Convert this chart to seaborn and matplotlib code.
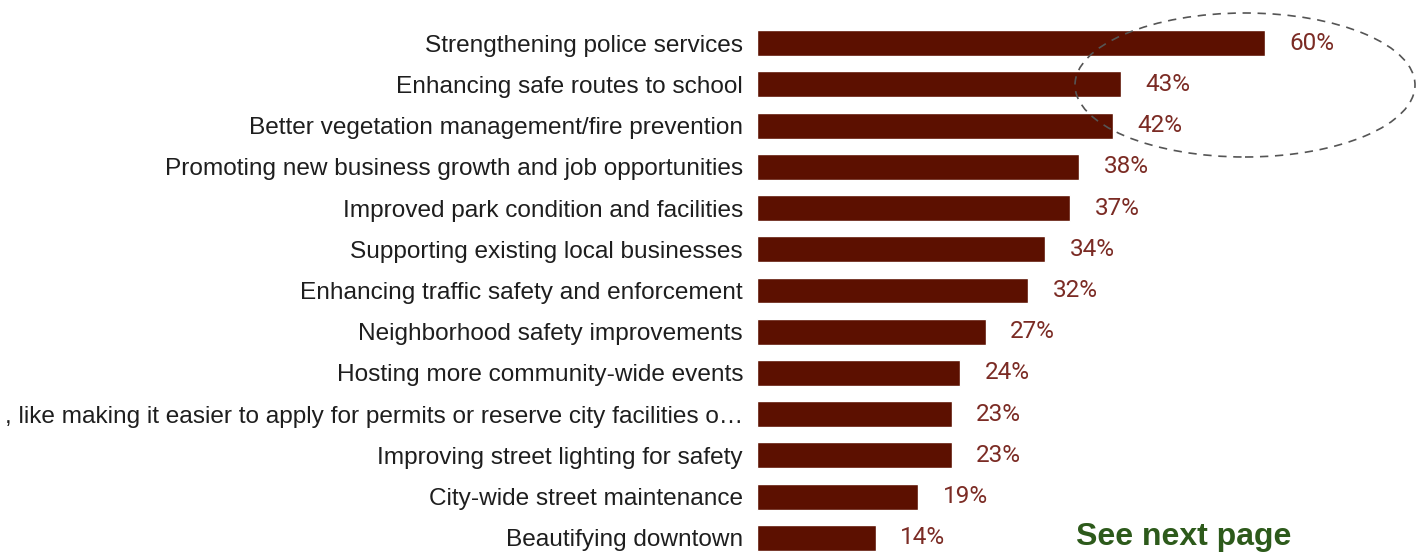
import pandas as pd
import matplotlib.pyplot as plt
import seaborn as sns
from matplotlib.patches import Ellipse

# Datos
categorias = [
    "Strengthening police services",
    "Enhancing safe routes to school",
    "Better vegetation management/fire prevention",
    "Promoting new business growth and job opportunities",
    "Improved park condition and facilities",
    "Supporting existing local businesses",
    "Enhancing traffic safety and enforcement",
    "Neighborhood safety improvements",
    "Hosting more community-wide events",
    ", like making it easier to apply for permits or reserve city facilities o\u2026",
    "Improving street lighting for safety",
    "City-wide street maintenance",
    "Beautifying downtown",
]
porcentajes = [60, 43, 42, 38, 37, 34, 32, 27, 24, 23, 23, 19, 14]

df = pd.DataFrame({"categoria": categorias, "pct": porcentajes})

sns.set_style("white")
plt.rcParams['font.family'] = ['Liberation Sans', 'DejaVu Sans']

fig = plt.figure(figsize=(14.16, 5.52), dpi=100)
ax = fig.add_axes([757 / 1416, 0, 659 / 1416, 529.6 / 552])

sns.barplot(data=df, y="categoria", x="pct", orient="h", color="#5c1000",
            saturation=1, width=0.63, ax=ax)

ax.set_xlim(0, 659 / 8.47)
ax.set_ylim(12.34, -0.5)
ax.set_xlabel("")
ax.set_ylabel("")
ax.set_xticks([])
ax.tick_params(axis="y", length=0, pad=10, labelsize=17.6, labelcolor="#1e1e1e")
for s in ax.spines.values():
    s.set_visible(False)

# Etiquetas de porcentaje
for p, v in zip(ax.patches, df["pct"]):
    ax.text(p.get_width() + 2.9, p.get_y() + p.get_height() / 2, f"{v}%",
            ha="left", va="center", fontsize=17.5, color="#7b2b24",
            family=["Roboto", "DejaVu Sans"])

# Elipse punteada
elipse = Ellipse((1245 / 1416, 1 - 85 / 552), 340 / 1416, 144 / 552,
                 transform=fig.transFigure, fill=False, edgecolor="#555555",
                 linestyle=(0, (5, 4)), linewidth=1.2, clip_on=False)
fig.patches.append(elipse)

fig.text(1076 / 1416, 1 - 537 / 552, "See next page", ha="left", va="center",
         fontsize=23, fontweight="bold", color="#2d5a1b")

fig.savefig("out.png", dpi=100)
